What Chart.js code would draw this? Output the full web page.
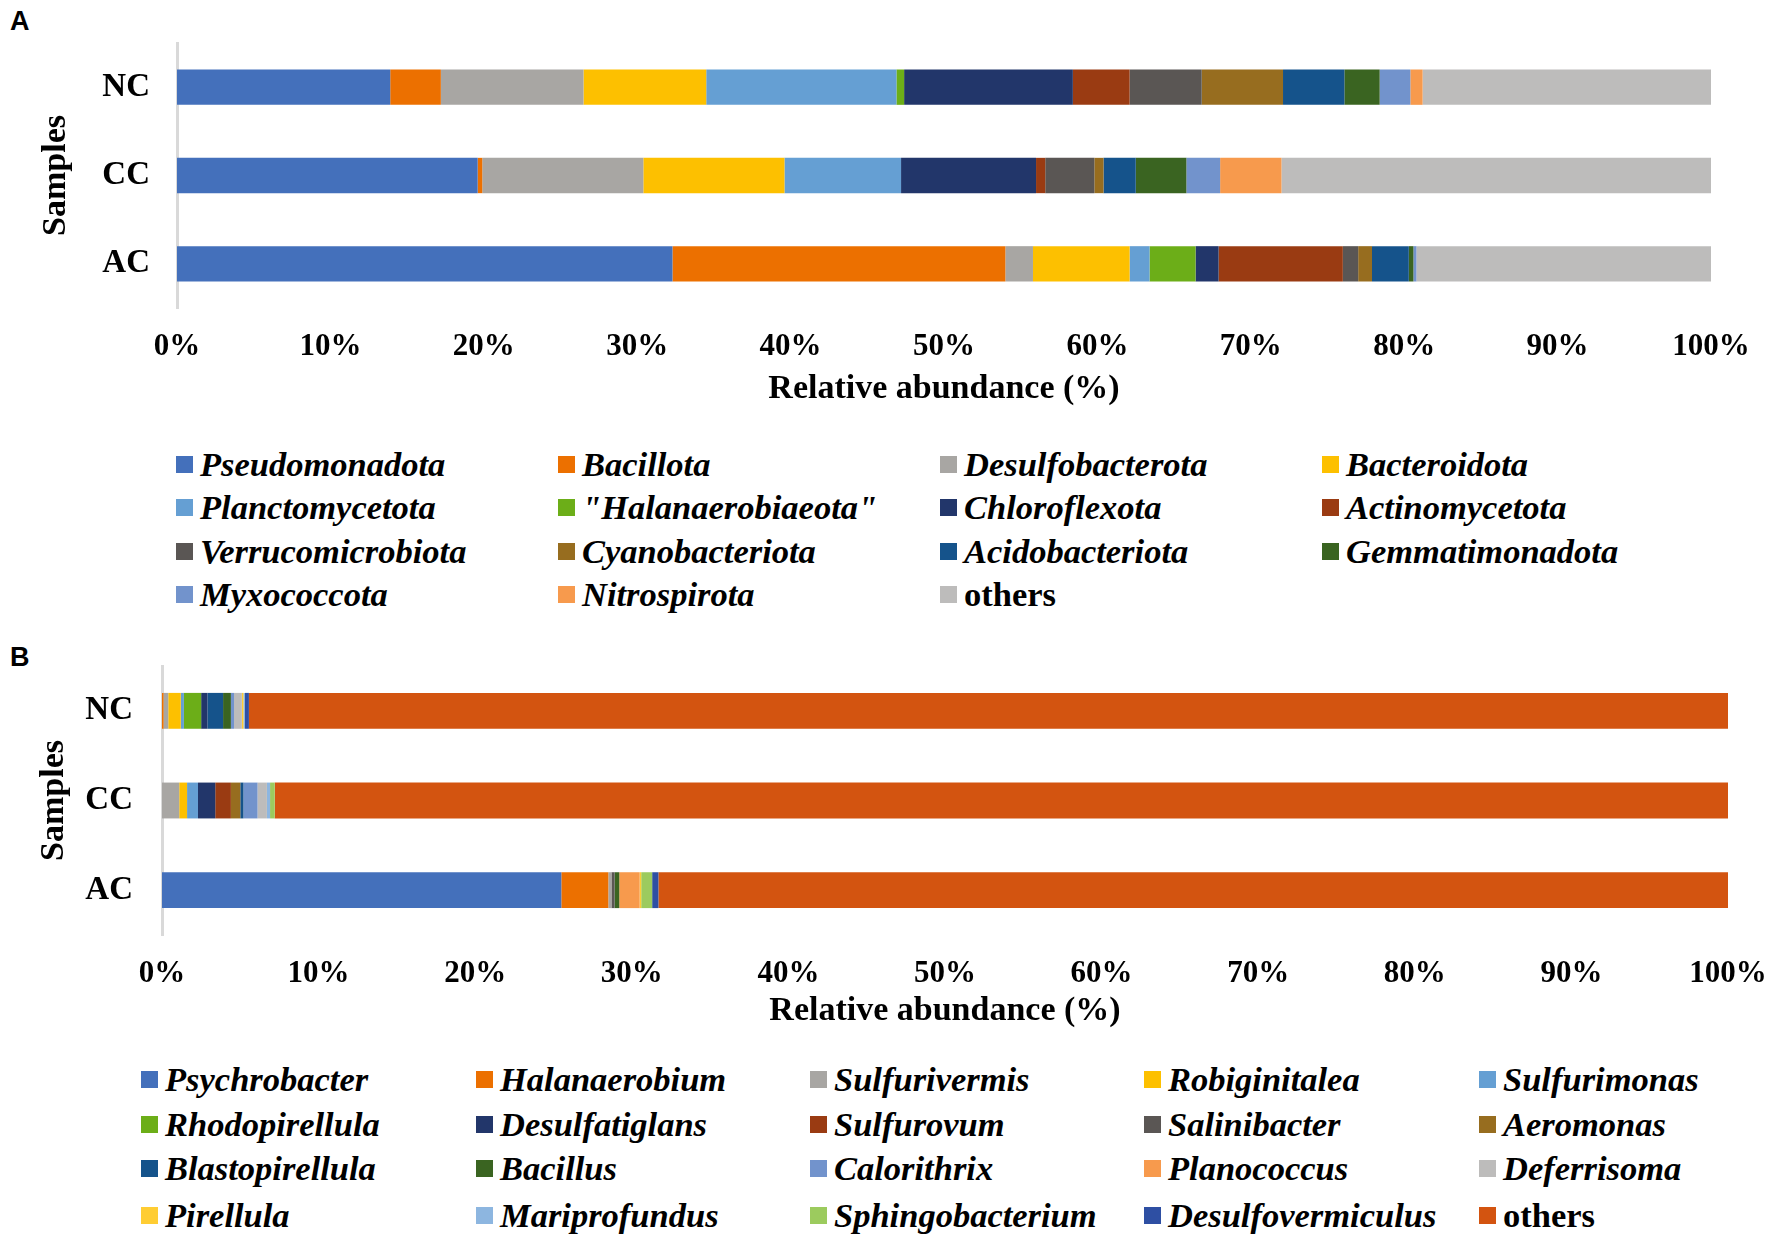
<!DOCTYPE html>
<html>
<head>
<meta charset="utf-8">
<script src="https://cdn.jsdelivr.net/npm/chart.js@4.4.1/dist/chart.umd.min.js"></script>
<style>
  body { margin: 0; background: #fff; }
  #wrap { position: relative; width: 1772px; height: 1240px; overflow: hidden; background: #fff; }
  canvas { position: absolute; left: 0; }
  .panel { position: absolute; font: bold 27px "Liberation Sans", Arial, sans-serif; color: #000; }
  .item { position: absolute; height: 40px; display: flex; align-items: center;
          font: italic bold 34.5px "Liberation Serif", "Times New Roman", serif; white-space: nowrap; color: #000; }
  .item.plain { font-style: normal; }
  .sw { width: 17px; height: 17px; margin-right: 7px; flex: none; }
</style>
</head>
<body>
<div id="wrap">
  <div class="panel" style="left:10px;top:6px">A</div>
  <canvas id="chartA" width="1772" height="420" style="top:0px"></canvas>
  <div class="panel" style="left:10px;top:642px">B</div>
  <canvas id="chartB" width="1772" height="410" style="top:630px"></canvas>
</div>
<script>
// samples (top to bottom)
const samples = ["NC", "CC", "AC"];

// panel A - phylum level
const phylumNames = ["Pseudomonadota", "Bacillota", "Desulfobacterota", "Bacteroidota",
  "Planctomycetota", "\"Halanaerobiaeota\"", "Chloroflexota", "Actinomycetota",
  "Verrucomicrobiota", "Cyanobacteriota", "Acidobacteriota", "Gemmatimonadota",
  "Myxococcota", "Nitrospirota", "others"];
const phylumColors = ["#4470BB", "#EC7000", "#A8A6A3", "#FDC000", "#659FD3", "#6CAE18",
  "#22366A", "#9A3B12", "#5A5654", "#976D1F", "#15538B", "#3A6421", "#7293CC", "#F79A4D", "#BDBCBB"];
const phylumNC = [13.9, 3.3, 9.3, 8.0, 12.4, 0.5, 11.0, 3.7, 4.7, 5.3, 4.0, 2.3, 2.0, 0.8, 18.8];
const phylumCC = [19.6, 0.3, 10.5, 9.2, 7.6, 0, 8.8, 0.6, 3.2, 0.6, 2.1, 3.3, 2.2, 4.0, 28.0];
const phylumAC = [32.3, 21.7, 1.8, 6.3, 1.3, 3.0, 1.5, 8.1, 1.0, 0.9, 2.4, 0.3, 0.2, 0, 19.2];

// panel B - genus level
const genusNames = ["Psychrobacter", "Halanaerobium", "Sulfurivermis", "Robiginitalea", "Sulfurimonas",
  "Rhodopirellula", "Desulfatiglans", "Sulfurovum", "Salinibacter", "Aeromonas",
  "Blastopirellula", "Bacillus", "Calorithrix", "Planococcus", "Deferrisoma",
  "Pirellula", "Mariprofundus", "Sphingobacterium", "Desulfovermiculus", "others"];
const genusColors = ["#4470BB", "#EC7000", "#A8A6A3", "#FDC000", "#659FD3",
  "#6CAE18", "#22366A", "#9A3B12", "#5A5654", "#976D1F",
  "#15538B", "#3A6421", "#7293CC", "#F79A4D", "#BDBCBB",
  "#FFCD33", "#8DB6E0", "#9CCB5E", "#2E4FA3", "#D35410"];
const genusNC = [0, 0.1, 0.3, 0.8, 0.2, 1.1, 0.4, 0, 0, 0, 1.0, 0.5, 0.2, 0, 0.5, 0.1, 0.1, 0, 0.25, 94.45];
const genusCC = [0, 0, 1.1, 0.5, 0.7, 0, 1.1, 1.0, 0, 0.6, 0.2, 0, 0.9, 0, 0.6, 0, 0.2, 0.3, 0, 92.8];
const genusAC = [25.5, 3.0, 0.2, 0, 0, 0, 0, 0, 0.2, 0, 0, 0.3, 0, 1.3, 0, 0.1, 0, 0.7, 0.4, 68.3];

const serif = "'Liberation Serif', 'Times New Roman', serif";

function makeChart(id, names, colors, rows, g) {
  const datasets = names.map((n, i) => ({
    label: n,
    data: rows.map(r => r[i]),
    backgroundColor: colors[i],
    borderWidth: 0,
    barPercentage: 0.4,
    categoryPercentage: 1.0
  }));
  return new Chart(document.getElementById(id).getContext("2d"), {
    type: "bar",
    data: { labels: samples, datasets: datasets },
    options: {
      indexAxis: "y",
      responsive: false,
      animation: false,
      layout: { padding: { top: g.padTop, right: g.padRight, left: 0, bottom: 0 } },
      plugins: { legend: { display: false }, tooltip: { enabled: false } },
      scales: {
        x: {
          stacked: true, min: 0, max: 100,
          grid: { display: false },
          border: { display: false },
          ticks: { stepSize: 10, padding: 12, maxRotation: 0, autoSkip: false, color: "#000",
                   font: { family: serif, size: 31, weight: "bold" },
                   callback: v => v + "%" },
          title: { display: true, text: "Relative abundance (%)", color: "#000",
                   padding: { top: 0, bottom: g.xTitlePad },
                   font: { family: serif, size: 34, weight: "bold" } },
          // fixed box so the plot area lands where the figure has it
          afterFit: s => { s.height = g.xHeight; s.paddingLeft = 0; s.paddingRight = 0; }
        },
        y: {
          stacked: true,
          grid: { display: false },
          border: { display: true, color: "#D9D9D9", width: 3 },
          ticks: { padding: g.yTickPad, color: "#000", font: { family: serif, size: 33, weight: "bold" } },
          title: { display: true, text: "Samples", color: "#000",
                   padding: { top: g.yTitlePad, bottom: 0 },
                   font: { family: serif, size: 34, weight: "bold" } },
          afterFit: s => { s.width = g.yWidth; s.paddingTop = 0; s.paddingBottom = 0; }
        }
      }
    }
  });
}

makeChart("chartA", phylumNames, phylumColors, [phylumNC, phylumCC, phylumAC],
  { padTop: 43, padRight: 61, yWidth: 177, xHeight: 112, yTickPad: 19, yTitlePad: 36, xTitlePad: 10 });
makeChart("chartB", genusNames, genusColors, [genusNC, genusCC, genusAC],
  { padTop: 36, padRight: 44, yWidth: 162, xHeight: 105, yTickPad: 21, yTitlePad: 34, xTitlePad: 8 });

// html legends laid out in a grid like the original figure
function legend(names, colors, cols, rows) {
  const wrap = document.getElementById("wrap");
  names.forEach((n, i) => {
    const d = document.createElement("div");
    d.className = "item" + (n === "others" ? " plain" : "");
    d.style.left = cols[i % cols.length] + "px";
    d.style.top = (rows[Math.floor(i / cols.length)] - 20) + "px";
    const sw = document.createElement("span");
    sw.className = "sw";
    sw.style.background = colors[i];
    d.appendChild(sw);
    d.appendChild(document.createTextNode(n));
    wrap.appendChild(d);
  });
}
legend(phylumNames, phylumColors, [176, 558, 940, 1322], [464, 507, 551, 594]);
legend(genusNames, genusColors, [141, 476, 810, 1144, 1479], [1079, 1124, 1168, 1215]);
</script>
</body>
</html>
